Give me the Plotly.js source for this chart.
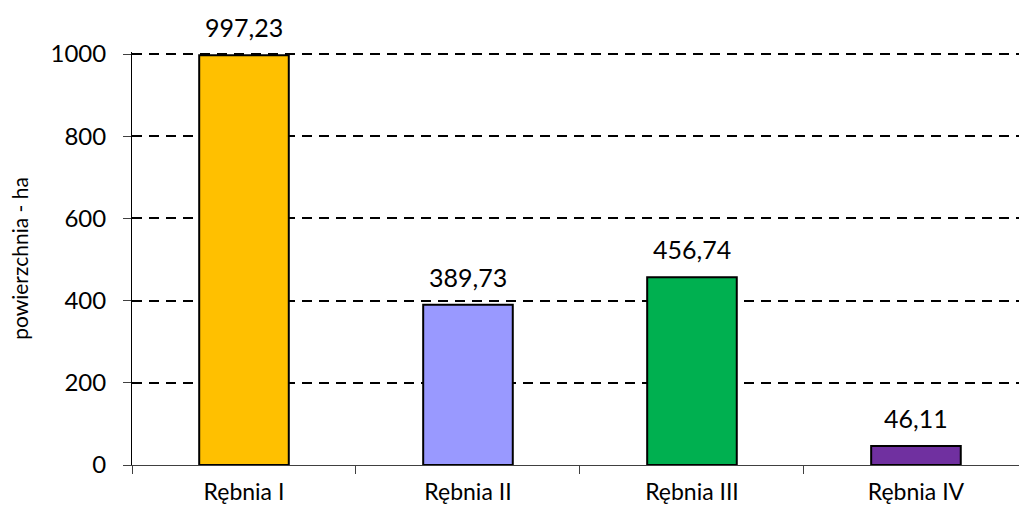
<!DOCTYPE html>
<html>
<head>
<meta charset="utf-8">
<script src="https://cdn.plot.ly/plotly-3.0.1.min.js"></script>
<style>
html,body{margin:0;padding:0;background:#fff;overflow:hidden;}
#chart{width:1019px;height:511px;}
</style>
</head>
<body>
<div id="chart"></div>
<script>
const categories = ["Rębnia I", "Rębnia II", "Rębnia III", "Rębnia IV"];
const values = [997.23, 389.73, 456.74, 46.11];
const valueLabels = ["997,23", "389,73", "456,74", "46,11"];
const colors = ["#FFC000", "#9999FF", "#00B050", "#7030A0"];
const yTicks = [0, 200, 400, 600, 800, 1000];

const FONT = "Lato, 'Open Sans', sans-serif";
const FS = 23;

const trace = {
  type: "bar",
  x: categories,
  y: values,
  width: 0.4,
  marker: {color: colors, line: {color: "#000", width: 2}},
  hoverinfo: "none"
};

const annotations = categories.map((c, i) => ({
  x: c, y: values[i], text: valueLabels[i],
  xref: "x", yref: "y", showarrow: false,
  yanchor: "bottom", yshift: 11,
  font: {family: FONT, size: 25, color: "#000"}
}));

const layout = {
  width: 1019, height: 511,
  margin: {l: 132, r: 0, t: 52, b: 46},
  paper_bgcolor: "#fff", plot_bgcolor: "#fff",
  showlegend: false,
  font: {family: FONT, size: FS, color: "#000"},
  xaxis: {
    type: "category",
    range: [-0.5, 3.46],
    showgrid: false,
    showline: true, linecolor: "#404040", linewidth: 1,
    ticks: "outside", tickson: "boundaries", ticklen: 8, tickcolor: "#404040", tickwidth: 1,
    ticklabelstandoff: 6,
    tickfont: {family: FONT, size: FS, color: "#000"},
    fixedrange: true
  },
  yaxis: {
    range: [0, 1005],
    tickvals: yTicks,
    ticktext: yTicks.map(String),
    showgrid: true, gridcolor: "#000", gridwidth: 2, griddash: "10px,7px",
    zeroline: false,
    showline: true, linecolor: "#000", linewidth: 1,
    ticks: "outside", ticklen: 8, tickcolor: "#404040", tickwidth: 1,
    ticklabelstandoff: 12,
    tickfont: {family: FONT, size: 24, color: "#000"},
    title: {text: "powierzchnia - ha", font: {family: FONT, size: 21, color: "#000"}, standoff: 16},
    fixedrange: true
  },
  annotations: annotations
};

Plotly.newPlot("chart", [trace], layout, {staticPlot: true, displayModeBar: false});
</script>
</body>
</html>
